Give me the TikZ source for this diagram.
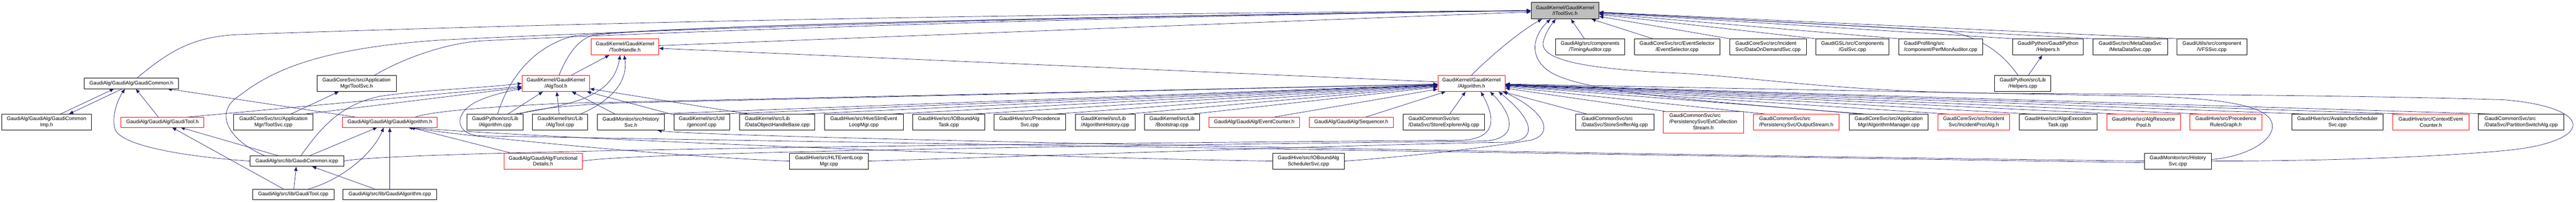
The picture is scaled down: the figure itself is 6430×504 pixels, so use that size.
\documentclass[tikz,border=0pt]{standalone}
\usepackage{fontspec}
\setmainfont{Liberation Sans}
\usetikzlibrary{arrows.meta,backgrounds}
\definecolor{linkblue}{RGB}{25,25,112}
\begin{document}
\begin{tikzpicture}[x=1pt,y=-1pt,
    file/.style={draw=black,line width=0.9pt,fill=white,inner sep=0pt,minimum height=40pt,align=center,font=\fontsize{12.8}{15}\selectfont},
    hfile/.style={file,draw=red},
    tfile/.style={file,fill=gray!50},
    inc/.style={draw=linkblue,line width=0.9pt,-{Latex[length=11pt,width=9pt]}}]
    \useasboundingbox(0,0)rectangle(6430,504);
    \node[tfile,minimum width=168.4pt,minimum height=41pt](itool)at(3906.5,26.5){GaudiKernel/GaudiKernel\\/IToolSvc.h};
    \node[hfile,minimum width=168pt](thandle)at(1560,117){GaudiKernel/GaudiKernel\\/ToolHandle.h};
    \node[file,minimum width=172pt](timing)at(3969,117){GaudiAlg/src/components\\/TimingAuditor.cpp};
    \node[file,minimum width=214pt](evtsel)at(4186,117){GaudiCoreSvc/src/EventSelector\\/EventSelector.cpp};
    \node[file,align=left,minimum width=191pt](dod)at(4413,117){GaudiCoreSvc/src/Incident\\Svc/DataOnDemandSvc.cpp};
    \node[file,minimum width=183pt](gsl)at(4624,117){GaudiGSL/src/Components\\/GslSvc.cpp};
    \node[file,align=left,minimum width=210pt](perfmon)at(4844,117){GaudiProfiling/src\\/component/PerfMonAuditor.cpp};
    \node[file,minimum width=176pt](helph)at(5112,117){GaudiPython/GaudiPython\\/Helpers.h};
    \node[file,minimum width=186pt](metadata)at(5317,117){GaudiSvc/src/MetaDataSvc\\/MetaDataSvc.cpp};
    \node[file,minimum width=174pt](vfs)at(5521,117){GaudiUtils/src/component\\/VFSSvc.cpp};
    \node[file,minimum width=235pt,minimum height=26pt](gcommon)at(328,208){GaudiAlg/GaudiAlg/GaudiCommon.h};
    \node[file,minimum width=198pt](toolsvch)at(890,208){GaudiCoreSvc/src/Application\\Mgr/ToolSvc.h};
    \node[hfile,minimum width=168pt](algtoolh)at(1387.5,208){GaudiKernel/GaudiKernel\\/AlgTool.h};
    \node[hfile,minimum width=167.5pt](algh)at(3673,208){GaudiKernel/GaudiKernel\\/Algorithm.h};
    \node[file,minimum width=140pt](helpcpp)at(5049,208){GaudiPython/src/Lib\\/Helpers.cpp};
    \node[file,minimum width=223pt](gcimp)at(116,305){GaudiAlg/GaudiAlg/GaudiCommon\\Imp.h};
    \node[hfile,minimum width=207pt,minimum height=25pt](gtoolh)at(405.5,305){GaudiAlg/GaudiAlg/GaudiTool.h};
    \node[file,minimum width=198pt](toolsvccpp)at(682.5,305){GaudiCoreSvc/src/Application\\Mgr/ToolSvc.cpp};
    \node[hfile,minimum width=236.5pt,minimum height=25pt](galgh)at(973,305){GaudiAlg/GaudiAlg/GaudiAlgorithm.h};
    \node[file,minimum width=140pt](pyalg)at(1236,305){GaudiPython/src/Lib\\/Algorithm.cpp};
    \node[file,minimum width=137pt](algtoolcpp)at(1398,305){GaudiKernel/src/Lib\\/AlgTool.cpp};
    \node[file,minimum width=167pt](histh)at(1574.5,305){GaudiMonitor/src/History\\Svc.h};
    \node[file,minimum width=139pt](genconf)at(1751.5,305){GaudiKernel/src/Util\\/genconf.cpp};
    \node[file,align=left,minimum width=188pt](dohb)at(1940,305){GaudiKernel/src/Lib\\/DataObjectHandleBase.cpp};
    \node[file,minimum width=197pt](hiveslim)at(2156,305){GaudiHive/src/HiveSlimEvent\\LoopMgr.cpp};
    \node[file,minimum width=179pt](iobtask)at(2368,305){GaudiHive/src/IOBoundAlg\\Task.cpp};
    \node[file,minimum width=179pt](precsvc)at(2570,305){GaudiHive/src/Precedence\\Svc.cpp};
    \node[file,align=left,minimum width=149pt](alghist)at(2758.5,305){GaudiKernel/src/Lib\\/AlgorithmHistory.cpp};
    \node[file,minimum width=137pt](boot)at(2925.5,305){GaudiKernel/src/Lib\\/Bootstrap.cpp};
    \node[hfile,minimum width=227.5pt,minimum height=25pt](evcount)at(3130.5,305){GaudiAlg/GaudiAlg/EventCounter.h};
    \node[hfile,minimum width=210pt,minimum height=25pt](seq)at(3373,305){GaudiAlg/GaudiAlg/Sequencer.h};
    \node[file,align=left,minimum width=204pt](storeexp)at(3604,305){GaudiCommonSvc/src\\/DataSvc/StoreExplorerAlg.cpp};
    \node[file,align=left,minimum width=195pt](storesniff)at(4030.5,305){GaudiCommonSvc/src\\/DataSvc/StoreSnifferAlg.cpp};
    \node[hfile,minimum width=200.5pt,minimum height=54pt](evtcoll)at(4251.5,305){\begin{tabular}{@{}l@{}}GaudiCommonSvc/src\\/PersistencySvc/EvtCollection\\\multicolumn{1}{@{}c@{}}{Stream.h}\end{tabular}};
    \node[hfile,align=left,minimum width=214.5pt](outstream)at(4483.5,305){GaudiCommonSvc/src\\/PersistencySvc/OutputStream.h};
    \node[file,minimum width=197pt](algmgr)at(4714.5,305){GaudiCoreSvc/src/Application\\Mgr/AlgorithmManager.cpp};
    \node[hfile,minimum width=179.5pt](incproc)at(4926.5,305){GaudiCoreSvc/src/Incident\\Svc/IncidentProcAlg.h};
    \node[file,minimum width=194pt](algoexec)at(5137,305){GaudiHive/src/AlgoExecution\\Task.cpp};
    \node[hfile,minimum width=184.5pt](algpool)at(5350.5,305){GaudiHive/src/AlgResource\\Pool.h};
    \node[hfile,minimum width=179.5pt](precrules)at(5556,305){GaudiHive/src/Precedence\\RulesGraph.h};
    \node[file,minimum width=228.5pt](avalanche)at(5834.5,305){GaudiHive/src/AvalancheScheduler\\Svc.cpp};
    \node[hfile,minimum width=190pt](ctxcount)at(6067.5,305){GaudiHive/src/ContextEvent\\Counter.h};
    \node[file,align=left,minimum width=213.5pt](partsw)at(6293,305){GaudiCommonSvc/src\\/DataSvc/PartitionSwitchAlg.cpp};
    \node[file,minimum width=234pt,minimum height=26pt](gcicpp)at(741,402){GaudiAlg/src/lib/GaudiCommon.icpp};
    \node[hfile,minimum width=196pt](funcdet)at(1355.5,402){GaudiAlg/GaudiAlg/Functional\\Details.h};
    \node[file,minimum width=197pt](hltloop)at(2069,402){GaudiHive/src/HLTEventLoop\\Mgr.cpp};
    \node[file,minimum width=179pt](iobsched)at(3266,402){GaudiHive/src/IOBoundAlg\\SchedulerSvc.cpp};
    \node[file,minimum width=167pt](histcpp)at(5436,402){GaudiMonitor/src/History\\Svc.cpp};
    \node[file,minimum width=203.5pt,minimum height=26pt](gtoolcpp)at(732,485){GaudiAlg/src/lib/GaudiTool.cpp};
    \node[file,minimum width=233.5pt,minimum height=26pt](galgcpp)at(973,485){GaudiAlg/src/lib/GaudiAlgorithm.cpp};
    \begin{scope}[on background layer]
    \draw[inc](thandle)--(itool);
    \draw[inc](timing)--(itool);
    \draw[inc]([xshift=47pt]evtsel.north west)--(itool);
    \draw[inc](dod.north west)--(itool);
    \draw[inc](gsl.north west)--(itool);
    \draw[inc](perfmon.north west)--(itool);
    \draw[inc](helph.north west)--(itool);
    \draw[inc](metadata.north west)--(itool);
    \draw[inc](vfs.north west)--(itool);
    \draw[inc]([xshift=-12pt]helpcpp.north)..controls(5010,150)and(4960,92)..(4850,76)--(itool);
    \draw[inc](helpcpp)--(helph);
    \draw[inc]([xshift=14pt]gcommon.north)..controls(420,130)and(480,90)..(600,86)..controls(1500,55)and(2500,35)..(itool.west);
    \draw[inc]([xshift=45pt]toolsvch.north)..controls(1000,150)and(1100,110)..(1200,102)..controls(1450,90)and(2500,45)..(itool.west);
    \draw[inc]([xshift=37pt]gcicpp.north west)..controls(570,350)and(530,280)..(600,237)..controls(680,175)and(800,120)..(1100,100)..controls(1500,80)and(2500,42)..(itool.west);
    \draw[inc]([xshift=6pt]pyalg.north)..controls(1265,210)and(1320,120)..(1430,90)..controls(1700,62)and(2800,40)..(itool.west);
    \draw[inc]([xshift=8pt]algtoolh.north)..controls(1415,140)and(1440,100)..(1480,88)..controls(1700,62)and(2800,40)..(itool.west);
    \draw[inc](algh.north)..controls(3710,150)and(3790,80)..([xshift=-57pt]itool.south);
    \draw[inc]([xshift=-70pt]algmgr.north)..controls(4300,255)and(3960,235)..(3870,180)..controls(3815,145)and(3825,90)..([xshift=-36pt]itool.south);
    \draw[inc](histcpp.east)..controls(5800,402)and(6080,392)..(6250,376)..controls(6480,355)and(6480,268)..(6250,249)..controls(5900,238)and(5300,234)..(5000,233)..controls(4600,230)and(4400,195)..(4200,183)..controls(3930,172)and(3845,145)..(3852,105)..controls(3858,80)and(3872,62)..([xshift=-23pt]itool.south);
    \draw[inc]([yshift=4pt]histcpp.east)..controls(5620,390)and(5690,340)..(5668,300)..controls(5648,265)and(5560,246)..(5350,240)--(algh);
    \draw[inc](histcpp.west)..controls(4000,385)and(1800,345)..([xshift=66pt]histh.south);
    \draw[inc]([yshift=-4pt]histcpp.west)..controls(3800,382)and(1500,345)..(1200,339)..controls(1140,337)and(1128,288)..(1185,256)..controls(1225,236)and(1270,228)..([yshift=-12pt]algtoolh.west);
    \draw[inc](hltloop.west)..controls(1700,392)and(1200,345)..([xshift=45pt]galgh.south);
    \draw[inc](iobsched.west)..controls(2500,392)and(1300,342)..([xshift=52pt]galgh.south);
    \draw[inc](funcdet)--(galgh);
    \draw[inc](galgcpp)--(galgh);
    \draw[inc](gcicpp)--(galgh);
    \draw[inc]([xshift=38pt]gtoolcpp.north)..controls(850,450)and(930,385)..([xshift=-15pt]galgh.south);
    \draw[inc](gtoolcpp)--(gcicpp);
    \draw[inc](galgcpp)--(gcicpp);
    \draw[inc](gtoolcpp)--(gtoolh);
    \draw[inc](gcicpp)--(gtoolh);
    \draw[inc](gcicpp.west)..controls(450,390)and(300,362)..(287,322)..controls(278,292)and(292,252)..([xshift=-16pt]gcommon.south);
    \draw[inc](gtoolh)--(gcommon);
    \draw[inc](galgh)--(gcommon);
    \draw[inc]([xshift=35pt]gcimp.north)--([xshift=-43pt]gcommon.south);
    \draw[inc]([xshift=-22pt]gcommon.south)--([xshift=56pt]gcimp.north);
    \draw[inc](toolsvccpp)--(toolsvch);
    \draw[inc]([xshift=-20pt]toolsvccpp.north east)--(algtoolh);
    \draw[inc]([xshift=-40pt]gtoolh.north east)--(algtoolh);
    \draw[inc]([xshift=10pt]gcicpp.north)..controls(800,320)and(850,260)..(950,240)..controls(1050,225)and(1200,220)..(algtoolh.west);
    \draw[inc](pyalg)--(algtoolh);
    \draw[inc](algtoolcpp)--(algtoolh);
    \draw[inc](histh)--(algtoolh);
    \draw[inc](genconf)--(algtoolh);
    \draw[inc]([xshift=23pt]dohb.north west)--(algtoolh);
    \draw[inc](algtoolh)--(thandle);
    \draw[inc]([xshift=-20pt]pyalg.north east)..controls(1420,262)and(1530,245)..([xshift=-12pt]thandle.south);
    \draw[inc]([xshift=-18pt]algtoolcpp.north east)..controls(1530,250)and(1568,200)..([xshift=-2pt]thandle.south);
    \draw[inc](algh)--(thandle);
    \draw[inc]([xshift=-55pt]galgh.north east)..controls(1080,278)and(1200,268)..(1400,258)--(algh);
    \draw[inc]([xshift=-10pt]pyalg.north east)..controls(1330,272)and(1420,262)..(1550,257)--(algh);
    \draw[inc]([xshift=-24pt]histh.north east)--(algh);
    \draw[inc]([xshift=-17pt]genconf.north east)--(algh);
    \draw[inc]([xshift=-27pt]dohb.north east)--(algh);
    \draw[inc]([xshift=-29pt]hiveslim.north east)--(algh);
    \draw[inc]([xshift=-26pt]iobtask.north east)--(algh);
    \draw[inc]([xshift=-25pt]precsvc.north east)--(algh);
    \draw[inc]([xshift=-18pt]alghist.north east)--(algh);
    \draw[inc]([xshift=-18pt]boot.north east)--(algh);
    \draw[inc]([xshift=-64pt]evcount.north east)--(algh);
    \draw[inc]([xshift=-69pt]seq.north east)--(algh);
    \draw[inc](storeexp)--(algh);
    \draw[inc]([xshift=28pt]storesniff.north west)--(algh);
    \draw[inc]([xshift=4pt]evtcoll.north west)--(algh);
    \draw[inc]([xshift=31pt]outstream.north west)--(algh);
    \draw[inc]([xshift=40pt]algmgr.north west)--(algh);
    \draw[inc]([xshift=26pt]incproc.north west)--(algh);
    \draw[inc]([xshift=30pt]algoexec.north west)--(algh);
    \draw[inc]([xshift=28pt]algpool.north west)--(algh);
    \draw[inc]([xshift=28pt]precrules.north west)--(algh);
    \draw[inc]([xshift=32pt]avalanche.north west)--(algh);
    \draw[inc]([xshift=30pt]ctxcount.north west)--(algh);
    \draw[inc]([xshift=34pt]partsw.north west)--(algh);
    \draw[inc](gcicpp.east)..controls(1000,370)and(3400,352)..(3650,350)..controls(3740,345)and(3730,290)..([xshift=23pt]algh.south);
    \draw[inc](funcdet.east)..controls(1600,375)and(3400,356)..(3700,352)..controls(3790,350)and(3780,290)..([xshift=46pt]algh.south);
    \draw[inc](hltloop.east)..controls(2500,392)and(3500,358)..(3760,355)..controls(3840,352)and(3830,300)..([xshift=67pt]algh.south);
    \draw[inc](iobsched.east)..controls(3500,392)and(3700,370)..(3820,350)..controls(3880,335)and(3860,280)..([xshift=79pt]algh.south);
    \end{scope}
\end{tikzpicture}
\end{document}
